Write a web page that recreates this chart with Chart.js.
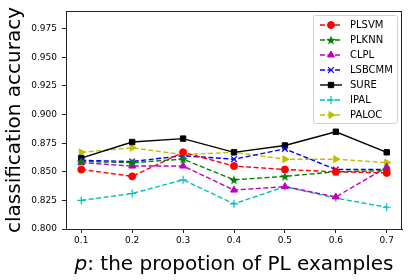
<!DOCTYPE html>
<html>
<head>
<meta charset="utf-8">
<script src="https://cdn.jsdelivr.net/npm/chart.js@4.4.0/dist/chart.umd.min.js"></script>
<style>
  html, body { margin: 0; padding: 0; background: #fff; }
  #wrap { width: 411px; height: 280px; }
</style>
</head>
<body>
<div id="wrap"><canvas id="accChart" width="411" height="280"></canvas></div>
<script>
// Data
const proportions = [0.1, 0.2, 0.3, 0.4, 0.5, 0.6, 0.7];
const plsvm   = [0.852, 0.846, 0.867, 0.855, 0.852, 0.850, 0.849];
const plknn   = [0.859, 0.858, 0.861, 0.843, 0.846, 0.850, 0.851];
const clpl    = [0.858, 0.855, 0.855, 0.834, 0.837, 0.828, 0.854];
const lsbcmm  = [0.860, 0.859, 0.864, 0.861, 0.870, 0.852, 0.852];
const sure    = [0.862, 0.876, 0.879, 0.867, 0.873, 0.885, 0.867];
const ipal    = [0.825, 0.831, 0.843, 0.822, 0.837, 0.827, 0.819];
const paloc   = [0.867, 0.871, 0.865, 0.867, 0.861, 0.861, 0.858];
const xTicks = [0.1, 0.2, 0.3, 0.4, 0.5, 0.6, 0.7];
const yTicks = [0.800, 0.825, 0.850, 0.875, 0.900, 0.925, 0.950, 0.975];

const FONT = "'DejaVu Sans', sans-serif";

// filled five-point star like matplotlib's '*'
function makeStar(color, size) {
    const c = document.createElement('canvas');
    c.width = size; c.height = size;
    const g = c.getContext('2d');
    const cx = size / 2, cy = size / 2 + 0.5, ro = size / 2, ri = ro * 0.42;
    g.beginPath();
    for (let i = 0; i < 10; i++) {
        const r = i % 2 ? ri : ro;
        const a = -Math.PI / 2 + i * Math.PI / 5;
        g.lineTo(cx + r * Math.cos(a), cy + r * Math.sin(a));
    }
    g.closePath();
    g.fillStyle = color;
    g.fill();
    return c;
}

const DASH = [5, 2.5];

function series(label, data, color, style, extra) {
    return Object.assign({
        label: label,
        data: data.map((v, i) => ({ x: proportions[i], y: v })),
        borderColor: color,
        backgroundColor: color,
        pointBackgroundColor: color,
        pointBorderColor: color,
        borderWidth: 1.4,
        borderDash: DASH,
        pointStyle: style,
        pointRadius: 3.5,
        pointBorderWidth: 1,
        pointRotation: 0,
        tension: 0,
        fill: false
    }, extra || {});
}

const datasets = [
    series('PLSVM', plsvm, '#ff0000', 'circle'),
    series('PLKNN', plknn, '#008000', makeStar('#008000', 10)),
    series('CLPL', clpl, '#bf00bf', 'triangle', { pointRadius: 4 }),
    series('LSBCMM', lsbcmm, '#0000ff', 'crossRot', { pointRadius: 4, pointBorderWidth: 1.2 }),
    series('SURE', sure, '#000000', 'rect', { borderDash: [], pointRadius: 3.8 }),
    series('IPAL', ipal, '#00bfbf', 'cross', { pointRadius: 4, pointBorderWidth: 1.2 }),
    series('PALOC', paloc, '#bfbf00', 'triangle', { pointRotation: 90, pointRadius: 4 })
];

const framePlugin = {
    id: 'frame',
    afterDraw(chart) {
        const { ctx, chartArea: a } = chart;
        ctx.save();
        ctx.strokeStyle = '#222';
        ctx.lineWidth = 1;
        ctx.strokeRect(Math.round(a.left) + 0.5, Math.round(a.top) + 0.5,
            Math.round(a.right - a.left) - 1, Math.round(a.bottom - a.top));

        // legend box
        const lx = 313, ly = 15, lw = 84, lh = 108;
        ctx.beginPath();
        ctx.roundRect(lx + 0.5, ly + 0.5, lw, lh, 2);
        ctx.fillStyle = 'rgba(255,255,255,0.8)';
        ctx.fill();
        ctx.strokeStyle = '#d0d0d0';
        ctx.stroke();
        chart.data.datasets.forEach((ds, i) => {
            const y = 25 + i * 15;
            ctx.strokeStyle = ds.borderColor;
            ctx.lineWidth = ds.borderWidth;
            ctx.setLineDash(ds.borderDash);
            ctx.beginPath();
            ctx.moveTo(320, y);
            ctx.lineTo(342, y);
            ctx.stroke();
            ctx.setLineDash([]);
            ctx.fillStyle = ds.pointBackgroundColor;
            ctx.strokeStyle = ds.pointBorderColor;
            ctx.lineWidth = ds.pointBorderWidth;
            Chart.helpers.drawPoint(ctx, {
                pointStyle: ds.pointStyle,
                rotation: ds.pointRotation,
                radius: ds.pointRadius,
                borderWidth: ds.pointBorderWidth
            }, 331, y);
            ctx.fillStyle = '#000';
            ctx.font = '10px ' + FONT;
            ctx.textBaseline = 'middle';
            ctx.textAlign = 'left';
            ctx.fillText(ds.label, 350, y + 0.5);
        });

        // axis titles
        ctx.fillStyle = '#000';
        ctx.textBaseline = 'alphabetic';
        ctx.font = 'italic 20px ' + FONT;
        const pW = ctx.measureText('p').width;
        ctx.font = '20px ' + FONT;
        const restText = ': the propotion of PL examples';
        const rW = ctx.measureText(restText).width;
        const startX = (a.left + a.right) / 2 - (pW + rW) / 2;
        ctx.font = 'italic 20px ' + FONT;
        ctx.textAlign = 'left';
        ctx.fillText('p', startX, 270);
        ctx.font = '20px ' + FONT;
        ctx.fillText(restText, startX + pW, 270);

        ctx.translate(19.5, (a.top + a.bottom) / 2);
        ctx.rotate(-Math.PI / 2);
        ctx.textAlign = 'center';
        ctx.fillText('classification accuracy', 0, 0);
        ctx.restore();
    }
};

new Chart(document.getElementById('accChart'), {
    type: 'line',
    data: { datasets: datasets },
    options: {
        responsive: false,
        animation: false,
        devicePixelRatio: 1,
        layout: { padding: { top: 11, right: 9, left: 0, bottom: 0 } },
        plugins: {
            legend: { display: false },
            tooltip: { enabled: false }
        },
        scales: {
            x: {
                type: 'linear',
                min: 0.07,
                max: 0.73,
                afterBuildTicks: s => { s.ticks = xTicks.map(v => ({ value: v })); },
                afterFit: s => { s.height = 51; },
                ticks: {
                    color: '#000',
                    font: { family: FONT, size: 9 },
                    padding: 2,
                    maxRotation: 0,
                    callback: v => v.toFixed(1)
                },
                grid: { drawOnChartArea: false, tickLength: 4, color: '#222' },
                border: { color: '#222', width: 1 }
            },
            y: {
                min: 0.8,
                max: 0.9905,
                afterBuildTicks: s => { s.ticks = yTicks.map(v => ({ value: v })); },
                afterFit: s => { s.width = 66; },
                ticks: {
                    color: '#000',
                    font: { family: FONT, size: 9 },
                    padding: 5,
                    callback: v => v.toFixed(3)
                },
                grid: { drawOnChartArea: false, tickLength: 4, color: '#222' },
                border: { color: '#222', width: 1 }
            }
        }
    },
    plugins: [framePlugin]
});
</script>
</body>
</html>
